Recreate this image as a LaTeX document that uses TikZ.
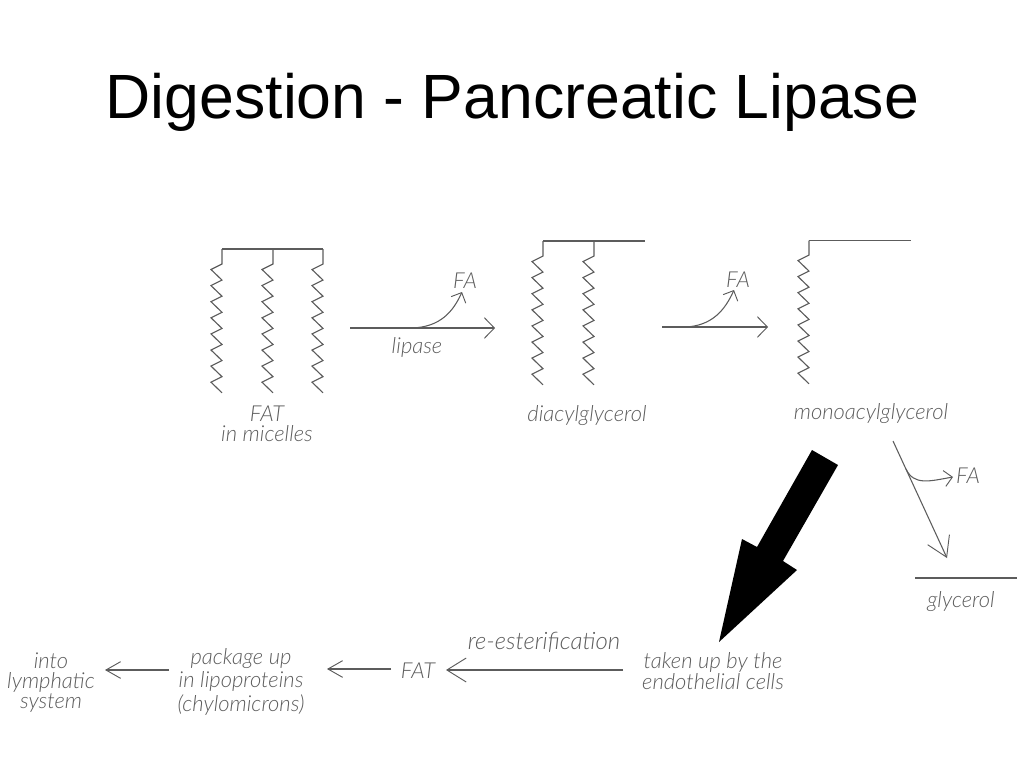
\documentclass[tikz,border=0pt]{standalone}
\usepackage{fontspec}
\usetikzlibrary{arrows.meta}
\setmainfont{Liberation Sans}
\newfontfamily\hand{Lato Light}
\definecolor{ink}{gray}{0.36}
\definecolor{handink}{gray}{0.36}
\tikzset{
  x=0.75pt,y=-0.75pt,
  titletext/.style={font=\fontsize{46.9}{56}\selectfont,text=black,inner sep=0pt,anchor=center},
  handtext/.style={font=\hand\itshape\fontsize{16.5}{15}\selectfont,text=handink,inner sep=0pt,align=center},
  bond/.style={draw=ink,line width=0.85pt,line join=miter},
  conn/.style={draw=ink,line width=0.8pt,-{Straight Barb[length=7.5pt,width=15.5pt,line width=0.7pt]}},
  curved/.style={draw=ink,line width=0.8pt,-{Straight Barb[length=6pt,width=12pt,line width=0.7pt]}},
  bigbarb/.style={draw=ink,line width=0.8pt,-{Straight Barb[length=14.5pt,width=18pt,line width=0.7pt]}},
  smallbarb/.style={draw=ink,line width=0.8pt,-{Straight Barb[length=11pt,width=12.5pt,line width=0.7pt]}},
}
\newcommand{\fattychain}[3]{% x, top of bar, bottom of stem
  \draw[bond] (#1,#2) -- (#1,#3) \foreach \i in {1,...,8}{ -- ++(-11,5.5) -- ++(11,10.6)};
}
\begin{document}
\begin{tikzpicture}
\useasboundingbox (0,0) rectangle (1024,768);
\node[titletext] (title) at (512.5,102) {Digestion - Pancreatic Lipase};

% FAT
\draw[bond] (222,249) -- (323,249);
\fattychain{222}{249}{264}
\fattychain{273}{249}{264}
\fattychain{323}{249}{264}
\node[handtext] (fat) at (267,424) {FAT\\in micelles};

% diacylglycerol
\draw[bond] (543,241) -- (645,241);
\fattychain{543}{241}{256}
\fattychain{594}{241}{256}
\node[handtext] (dag) at (587,416) {diacylglycerol};

% monoacylglycerol
\draw[bond] (809,240.5) -- (911,240.5);
\fattychain{809}{240.5}{255}
\node[handtext] (mag) at (871,414) {monoacylglycerol};

% first step
\coordinate (a1s) at (350,328);
\coordinate (a1e) at (495,328);
\coordinate (a1b) at (412,328);
\draw[conn] (a1s) -- (a1e);
\node[handtext] (fa1) at (465,281) {FA};
\coordinate (a1f) at (462,292);
\draw[curved] (a1b) .. controls (440,327) and (453,312) .. (a1f);
\node[handtext] (lipase) at (417,347) {lipase};

% second step
\coordinate (a2s) at (662,327);
\coordinate (a2e) at (768,327);
\coordinate (a2b) at (685,327);
\draw[conn] (a2s) -- (a2e);
\node[handtext] (fa2) at (738,280) {FA};
\coordinate (a2f) at (734,290);
\draw[curved] (a2b) .. controls (712,326) and (725,310) .. (a2f);

% to glycerol
\coordinate (a3s) at (893,441);
\coordinate (a3e) at (947,558);
\draw[bigbarb] (a3s) -- (a3e);
\coordinate (a3b) at (906,469);
\coordinate (a3f) at (953,477);
\node[handtext] (fa3) at (968,476) {FA};
\draw[curved] (a3b) .. controls (914,486) and (930,481) .. (a3f);
\coordinate (gl) at (915,578);
\coordinate (gr) at (1017,578);
\draw[bond] (gl) -- (gr);
\node[handtext] (gly) at (961,602) {glycerol};

% big arrow
\fill[black] (812,450) -- (838,465) -- (783,561) -- (797,570) -- (719,642) -- (742,539) -- (757,547) -- cycle;

% bottom row
\node[handtext] (taken) at (713,671) {taken up by the\\[1pt]endothelial cells};
\node[handtext,font=\hand\itshape\fontsize{18}{15}\selectfont] (ester) at (544,642) {re-esterification};
\node[handtext] (fatb) at (418,671) {FAT};
\node[handtext] (pack) at (241,682) {package up\\[1.5pt]in lipoproteins\\[1.5pt](chylomicrons)};
\node[handtext] (lymph) at (51,682.5) {into\\lymphatic\\system};
\coordinate (b1s) at (623,670);
\coordinate (b1e) at (446,670);
\draw[bigbarb] (b1s) -- (b1e);
\coordinate (b2s) at (391,669);
\coordinate (b2e) at (327,669);
\draw[smallbarb] (b2s) -- (b2e);
\coordinate (b3s) at (169,670);
\coordinate (b3e) at (105,670);
\draw[smallbarb] (b3s) -- (b3e);
\end{tikzpicture}
\end{document}
